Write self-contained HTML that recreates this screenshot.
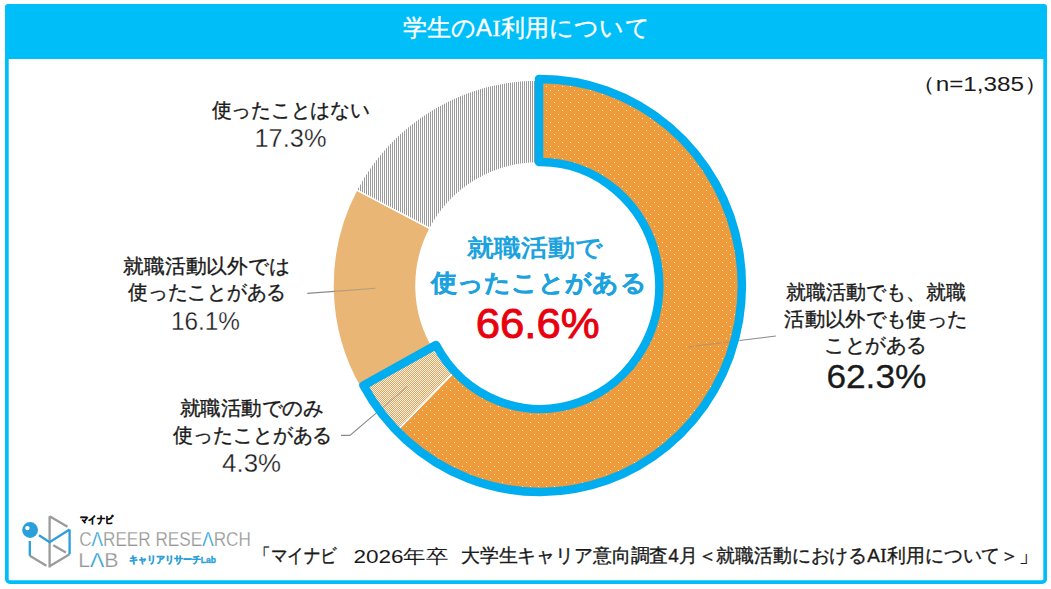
<!DOCTYPE html>
<html><head><meta charset="utf-8">
<style>
html,body{margin:0;padding:0;background:#fff;}
body{width:1051px;height:589px;overflow:hidden;position:relative;font-family:"Liberation Sans",sans-serif;}
svg{position:absolute;left:0;top:0;}
.t{font-family:"Liberation Sans",sans-serif;}
</style></head>
<body>
<svg width="1051" height="589" viewBox="0 0 1051 589">
<defs>
  <pattern id="stripe" width="2" height="8" patternUnits="userSpaceOnUse">
    <rect width="2" height="8" fill="#fff"/>
    <rect width="1" height="8" fill="#9a9a9a"/>
  </pattern>
  <pattern id="dots" width="8" height="8" patternUnits="userSpaceOnUse">
    <rect width="8" height="8" fill="#ee9b3d"/>
    <rect x="6" y="2" width="1" height="1" fill="#fff2a6"/>
    <rect x="2" y="6" width="1" height="1" fill="#fff2a6"/>
  </pattern>
  <pattern id="check" width="2" height="2" patternUnits="userSpaceOnUse">
    <rect width="2" height="2" fill="#d8a673"/>
    <rect x="0" y="0" width="1" height="1" fill="#fdf1cf"/>
    <rect x="1" y="1" width="1" height="1" fill="#fdf1cf"/>
  </pattern>
</defs>
<!-- frame -->
<rect x="6.85" y="5.85" width="1038.3" height="576.3" rx="3" fill="#fff" stroke="#00bff8" stroke-width="3.7"/>
<rect x="5" y="4" width="1042" height="55" rx="3" fill="#00bff8"/>
<text id="title" x="402.60" y="35.75" font-size="24" textLength="247.00" lengthAdjust="spacingAndGlyphs" stroke="#fff" stroke-width="0.35" fill="#fff" class="t">学生のA<tspan style="font-family:'Liberation Serif',serif" dx="0.6">I</tspan><tspan dx="0.8">利</tspan>用について</text>
<text id="n" x="911.40" y="90.65" font-size="20" textLength="137.00" lengthAdjust="spacingAndGlyphs" fill="#1a1a1a" class="t">（n=1,385）</text>
<text id="L1a" x="211.50" y="116.60" font-size="20" textLength="158.00" lengthAdjust="spacingAndGlyphs" stroke="#1a1a1a" stroke-width="0.35" fill="#1a1a1a" class="t">使ったことはない</text>
<text id="L1b" x="254.50" y="147.20" font-size="25" textLength="72.00" lengthAdjust="spacingAndGlyphs" stroke="#fff" stroke-width="0.3" fill="#1a1a1a" class="t">17.3%</text>
<text id="L2a" x="123.40" y="273.45" font-size="20" textLength="166.00" lengthAdjust="spacingAndGlyphs" stroke="#1a1a1a" stroke-width="0.35" fill="#1a1a1a" class="t">就職活動以外では</text>
<text id="L2b" x="128.20" y="299.45" font-size="20" textLength="158.00" lengthAdjust="spacingAndGlyphs" stroke="#1a1a1a" stroke-width="0.35" fill="#1a1a1a" class="t">使ったことがある</text>
<text id="L2c" x="170.90" y="330.20" font-size="25" textLength="69.00" lengthAdjust="spacingAndGlyphs" stroke="#fff" stroke-width="0.3" fill="#1a1a1a" class="t">16.1%</text>
<text id="L3a" x="179.60" y="415.30" font-size="20" textLength="144.00" lengthAdjust="spacingAndGlyphs" stroke="#1a1a1a" stroke-width="0.35" fill="#1a1a1a" class="t">就職活動でのみ</text>
<text id="L3b" x="173.30" y="441.75" font-size="20" textLength="159.00" lengthAdjust="spacingAndGlyphs" stroke="#1a1a1a" stroke-width="0.35" fill="#1a1a1a" class="t">使ったことがある</text>
<text id="L3c" x="222.10" y="472.15" font-size="25" textLength="59.00" lengthAdjust="spacingAndGlyphs" stroke="#fff" stroke-width="0.3" fill="#1a1a1a" class="t">4.3%</text>
<text id="L4a" x="785.80" y="298.60" font-size="20" textLength="180.00" lengthAdjust="spacingAndGlyphs" stroke="#1a1a1a" stroke-width="0.35" fill="#1a1a1a" class="t">就職活動でも、就職</text>
<text id="L4b" x="784.30" y="326.10" font-size="20" textLength="183.00" lengthAdjust="spacingAndGlyphs" stroke="#1a1a1a" stroke-width="0.35" fill="#1a1a1a" class="t">活動以外でも使った</text>
<text id="L4c" x="824.00" y="351.55" font-size="20" textLength="103.00" lengthAdjust="spacingAndGlyphs" stroke="#1a1a1a" stroke-width="0.35" fill="#1a1a1a" class="t">ことがある</text>
<text id="L4d" x="826.40" y="388.25" font-size="34" textLength="100.00" lengthAdjust="spacingAndGlyphs" stroke="#1a1a1a" stroke-width="0.3" fill="#1a1a1a" class="t">62.3%</text>
<text id="C1" x="467.20" y="255.60" font-size="23.5" textLength="136.00" lengthAdjust="spacingAndGlyphs" font-weight="bold" fill="#1ca3de" class="t">就職活動で</text>
<text id="C2" x="430.70" y="291.10" font-size="23.5" textLength="216.00" lengthAdjust="spacingAndGlyphs" font-weight="bold" stroke="#1ca3de" stroke-width="0.3" fill="#1ca3de" class="t">使ったことがある</text>
<text id="C3" x="475.70" y="337.85" font-size="43" textLength="124.00" lengthAdjust="spacingAndGlyphs" stroke="#e8000f" stroke-width="0.9" fill="#e8000f" class="t">66.6%</text>
<text id="F1" x="254.10" y="562.35" font-size="19" textLength="83.00" lengthAdjust="spacingAndGlyphs" stroke="#1a1a1a" stroke-width="0.35" fill="#1a1a1a" class="t">「マイナビ</text>
<text id="F2" x="353.40" y="563.45" font-size="19" textLength="95.00" lengthAdjust="spacingAndGlyphs" fill="#1a1a1a" class="t">2026年卒</text>
<text id="F3" x="460.90" y="562.25" font-size="19" textLength="577.00" lengthAdjust="spacingAndGlyphs" stroke="#1a1a1a" stroke-width="0.35" fill="#1a1a1a" class="t">大学生キャリア意向調査4月＜就職活動におけるA<tspan style="font-family:'Liberation Serif',serif" dx="0.5">I</tspan><tspan dx="0.6">利</tspan>用について＞」</text>
<text id="LG1" x="80.20" y="522.90" font-size="10" textLength="33.20" lengthAdjust="spacingAndGlyphs" font-weight="bold" stroke="#111" stroke-width="0.5" fill="#111" class="t">マイナビ</text>
<text id="LG2" x="79.20" y="545.60" font-size="20" textLength="171.60" lengthAdjust="spacingAndGlyphs" stroke="#fff" stroke-width="0.25" fill="#969696" class="t">C<tspan fill="#2b9fd9">Λ</tspan>REER RESE<tspan fill="#2b9fd9">Λ</tspan>RCH</text>
<text id="LG3" x="78.20" y="566.80" font-size="20" textLength="40.40" lengthAdjust="spacingAndGlyphs" stroke="#fff" stroke-width="0.25" fill="#969696" class="t">L<tspan fill="#2b9fd9">Λ</tspan>B</text>
<text id="LG4" x="129.00" y="562.60" font-size="9.5" textLength="87.00" lengthAdjust="spacingAndGlyphs" font-weight="bold" stroke="#2b9fd9" stroke-width="0.4" fill="#2b9fd9" class="t">キャリアリサーチLab</text>
<!-- donut -->
<g stroke="#fff" stroke-width="1.5">
<path fill="url(#dots)" d="M538.50,80.00 A205.5,205.5 0 1 1 395.03,432.62 L452.97,373.20 A122.5,122.5 0 1 0 538.50,163.00 Z"/>
<path fill="url(#check)" d="M395.03,432.62 A205.5,205.5 0 0 1 360.96,388.99 L432.67,347.19 A122.5,122.5 0 0 0 452.97,373.20 Z"/>
<path fill="#eab676" d="M360.96,388.99 A205.5,205.5 0 0 1 356.58,189.91 L430.06,228.52 A122.5,122.5 0 0 0 432.67,347.19 Z"/>
<path fill="url(#stripe)" d="M356.58,189.91 A205.5,205.5 0 0 1 538.50,80.00 L538.50,163.00 A122.5,122.5 0 0 0 430.06,228.52 Z"/>
</g>
<!-- leader lines -->
<g stroke="#8a8a8a" stroke-width="1.1" fill="none">
<path d="M307.3,293.4 L334.5,291.4"/>
<path d="M341,435.4 L349.9,435.4 L377,412.3"/>
<path d="M775.8,336 L739.5,340.5"/>
</g>
<g stroke="#8a8a8a" stroke-width="1.1" fill="none" opacity="0.55">
<path d="M334.5,291.4 L375.3,288.3"/>
<path d="M377,412.3 L407.5,386.3"/>
<path d="M739.5,340.5 L687.8,347"/>
</g>
<!-- blue outline -->
<path id="outline" fill="none" stroke="#00adef" stroke-width="8.5" stroke-linejoin="round"
 d="M539,79.00 A201.8,206.5 0 1 1 363.5,385.5 L436,345 A119.0,123.5 0 1 0 539,162.00 Z"/>

<!-- logo -->
<g id="logo">
<g fill="none" stroke-width="2.3" stroke-linecap="butt">
<path stroke="#9b9b9b" d="M49.6,516.3 L49.6,567.4 M49.6,516.3 L67.5,526.8 M53.3,545.3 L65.9,552.6 M69.6,554.2 L49.6,566.2 M29.8,555.8 L46.4,565.8"/>
<path stroke="#2b9fd9" d="M69.6,529.5 L69.6,554.2 M39,535.3 L49.6,542.1 L69.6,529.5 M29.8,541 L29.8,555.8"/>
</g>
<circle cx="30.1" cy="530" r="7.9" fill="#2b9fd9"/>
<circle cx="27.4" cy="528.1" r="2.2" fill="#fff"/>
</g>
<!--LOGOTEXT-->

</svg>
</body></html>
